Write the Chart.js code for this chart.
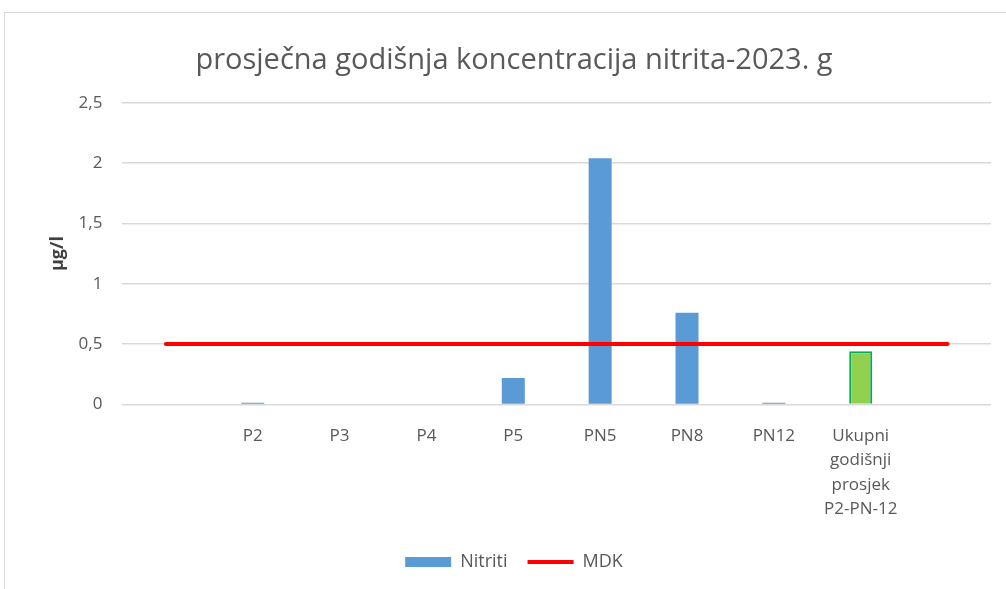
<!DOCTYPE html>
<html>
<head>
<meta charset="utf-8">
<script src="https://cdn.jsdelivr.net/npm/chart.js@4"></script>
<style>
  html, body { margin: 0; padding: 0; background: #fff; overflow: hidden; }
  #frame {
    position: absolute; left: 4px; top: 12px; width: 1018px; height: 590px;
    border-left: 1px solid #d9d9d9; border-top: 1px solid #d9d9d9;
  }
</style>
</head>
<body>
<div id="frame"><canvas id="chart"></canvas></div>
<script>
  // Chart data
  const categories = ['', 'P2', 'P3', 'P4', 'P5', 'PN5', 'PN8', 'PN12', ['Ukupni', 'godišnji', 'prosjek', 'P2-PN-12'], ''];
  const nitriti = [null, 0.015, 0, 0, 0.22, 2.04, 0.76, 0.015, 0.44, null];
  const mdk = [0.5, 0.5, 0.5, 0.5, 0.5, 0.5, 0.5, 0.5, 0.5, 0.5];
  const yTicks = [0, 0.5, 1, 1.5, 2, 2.5];

  const blue = '#5b9bd5';
  const barColors = nitriti.map((v, i) => i === 8 ? '#92d050' : blue);
  const barBorders = nitriti.map((v, i) => i === 8 ? '#00b050' : blue);
  const barBorderWidths = nitriti.map((v, i) => i === 8 ? 2 : 0);

  const grey = '#595959';
  const fontFamily = "'Open Sans', sans-serif";

  const ctx = document.getElementById('chart').getContext('2d');
  new Chart(ctx, {
    data: {
      labels: categories,
      datasets: [
        {
          type: 'bar',
          label: 'Nitriti',
          data: nitriti,
          backgroundColor: barColors,
          borderColor: barBorders,
          borderWidth: barBorderWidths,
          barPercentage: 1,
          categoryPercentage: 0.265,
          pointStyle: 'rect',
          order: 1
        },
        {
          type: 'line',
          label: 'MDK',
          data: mdk,
          borderColor: '#ff0000',
          backgroundColor: '#ff0000',
          borderWidth: 4,
          borderCapStyle: 'round',
          pointRadius: 0,
          pointBorderWidth: 4,
          pointBorderColor: '#ff0000',
          pointStyle: 'line',
          order: 0
        }
      ]
    },
    options: {
      responsive: true,
      maintainAspectRatio: false,
      animation: false,
      layout: { padding: { top: 30, right: 32, bottom: 22, left: 32 } },
      plugins: {
        title: {
          display: true,
          text: 'prosječna godišnja koncentracija nitrita-2023. g',
          color: grey,
          font: { family: fontFamily, size: 29, weight: 'normal' },
          padding: { top: 0, bottom: 25 }
        },
        legend: {
          position: 'bottom',
          labels: {
            color: grey,
            font: { family: fontFamily, size: 18 },
            usePointStyle: true,
            pointStyleWidth: 46,
            boxHeight: 10,
            padding: 20,
            sort: (a, b) => a.datasetIndex - b.datasetIndex
          }
        },
        tooltip: { enabled: false }
      },
      scales: {
        x: {
          grid: { display: false },
          border: { display: false },
          ticks: {
            color: grey,
            font: { family: fontFamily, size: 17, lineHeight: 1.42 },
            maxRotation: 0,
            autoSkip: false,
            padding: 12
          }
        },
        y: {
          min: 0,
          max: 2.5,
          afterBuildTicks: (axis) => { axis.ticks = yTicks.map(v => ({ value: v })); },
          grid: { color: '#d9d9d9', lineWidth: 1.5, drawTicks: false },
          border: { display: false },
          ticks: {
            color: grey,
            font: { family: fontFamily, size: 17 },
            padding: 20,
            callback: (v) => String(v).replace('.', ',')
          },
          title: {
            display: true,
            text: 'µg/l',
            color: '#404040',
            font: { family: fontFamily, size: 18, weight: 'bold' },
            padding: { top: 10, bottom: -10 }
          }
        }
      }
    }
  });
</script>
</body>
</html>
